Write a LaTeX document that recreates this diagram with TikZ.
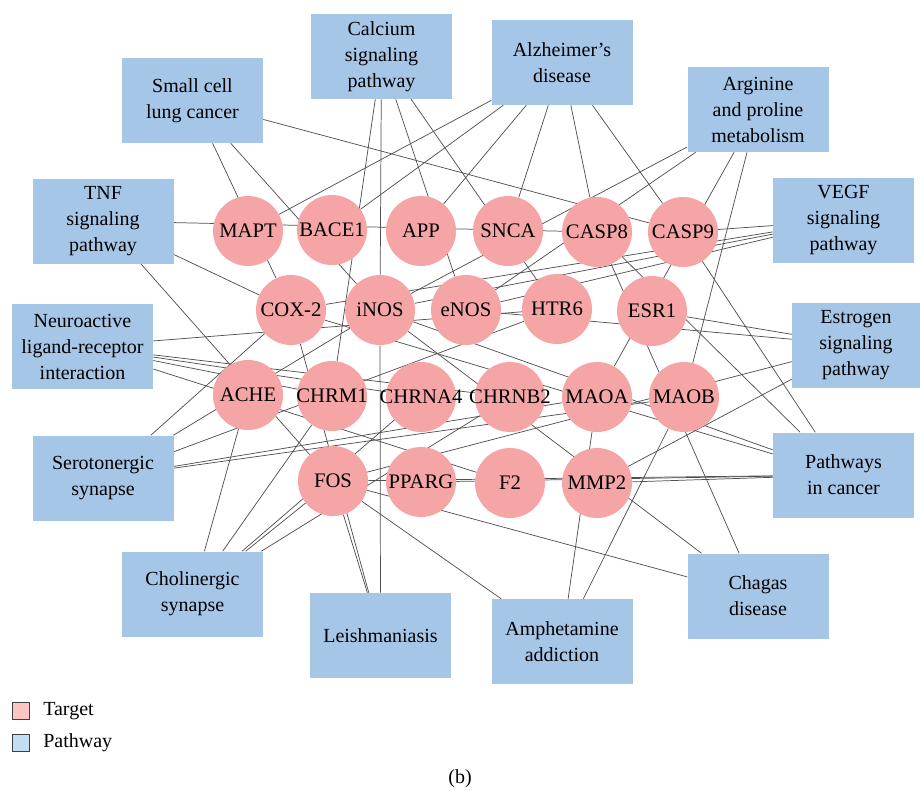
\documentclass[tikz,border=0pt]{standalone}
\usepackage{fontspec}
\setmainfont{Liberation Serif}
\usetikzlibrary{backgrounds}
\definecolor{tcol}{HTML}{F5A5A5}
\definecolor{pcol}{HTML}{A6C6E8}
\definecolor{edgecol}{HTML}{505050}
\definecolor{ltcol}{HTML}{FFC4C4}
\definecolor{lpcol}{HTML}{C4DCF4}
\tikzset{
  tlabel/.style={font=\fontsize{15.5}{17}\selectfont, inner sep=0pt},
  target/.style={circle, fill=tcol, minimum size=52.5pt, inner sep=0pt, label={[tlabel]center:#1}},
  pathway/.style={rectangle, fill=pcol, minimum width=105.75pt, minimum height=63.75pt, inner sep=2pt, align=center, font=\fontsize{15}{19.5}\selectfont},
  edge/.style={draw=edgecol, line width=0.55pt},
  legsq/.style={rectangle, draw=black!75, line width=0.9pt, minimum size=13pt, inner sep=0pt},
  legtxt/.style={anchor=west, font=\fontsize{15}{18}\selectfont, inner sep=0pt}
}
\begin{document}
\begin{tikzpicture}[x=0.75pt, y=-0.75pt]
\useasboundingbox (0,0) rectangle (920,790);
% targets
\node[target=MAPT] (mapt) at (248,231) {};
\node[target=BACE1] (bace) at (332,230) {};
\node[target=APP] (app) at (421,231) {};
\node[target=SNCA] (snca) at (508,231) {};
\node[target=CASP8] (casp8) at (597,232) {};
\node[target=CASP9] (casp9) at (683,232) {};
\node[target=COX-2] (cox) at (291,310) {};
\node[target=iNOS] (inos) at (380,310) {};
\node[target=eNOS] (enos) at (466,310) {};
\node[target=HTR6] (htr) at (557,309) {};
\node[target=ESR1] (esr) at (652,311) {};
\node[target=ACHE] (ache) at (248,395) {};
\node[target=CHRM1] (chrm) at (332,396) {};
\node[target=CHRNA4] (chrna) at (421,397) {};
\node[target=CHRNB2] (chrnb) at (510,397) {};
\node[target=MAOA] (maoa) at (597,397) {};
\node[target=MAOB] (maob) at (684,397) {};
\node[target=FOS] (fos) at (333,481) {};
\node[target=PPARG] (pparg) at (421,482) {};
\node[target=F2] (ftwo) at (510,483) {};
\node[target=MMP2] (mmp) at (597,483) {};
% pathways
\node[pathway] (small) at (192.5,100.5) {Small cell\\lung cancer};
\node[pathway] (calc) at (381.5,56.5) {Calcium\\signaling\\pathway};
\node[pathway] (alz) at (562,62.5) {Alzheimer's\\disease};
\node[pathway] (arg) at (758,109.5) {Arginine\\and proline\\metabolism};
\node[pathway] (vegf) at (843.5,220.5) {VEGF\\signaling\\pathway};
\node[pathway] (tnf) at (103,221) {TNF\\signaling\\pathway};
\node[pathway] (neuro) at (82.5,346.5) {Neuroactive\\ligand-receptor\\interaction};
\node[pathway] (sero) at (103,478) {Serotonergic\\synapse};
\node[pathway, minimum width=96pt] (estr) at (856,345) {Estrogen\\signaling\\pathway};
\node[pathway] (canc) at (843.5,475) {Pathways\\in cancer};
\node[pathway] (chol) at (192.5,594) {Cholinergic\\synapse};
\node[pathway] (leish) at (380.5,635.5) {Leishmaniasis};
\node[pathway] (amph) at (562,641.5) {Amphetamine\\addiction};
\node[pathway] (chag) at (758,596) {Chagas\\disease};
% edges
\begin{pgfonlayer}{background}
\foreach \a/\b in {small/cox, small/inos, small/casp9,
  calc/chrm, calc/inos, calc/enos, calc/htr,
  alz/mapt, alz/bace, alz/app, alz/snca, alz/casp8, alz/casp9,
  arg/inos, arg/enos, arg/maoa, arg/maob,
  vegf/casp9, vegf/enos, vegf/cox, vegf/inos,
  tnf/casp8, tnf/cox, tnf/fos,
  neuro/htr, neuro/chrm, neuro/chrna, neuro/chrnb, neuro/ftwo,
  sero/cox, sero/inos, sero/htr, sero/maoa, sero/maob,
  chol/ache, chol/chrm, chol/fos, chol/chrna, chol/chrnb,
  leish/inos, leish/fos, leish/cox,
  amph/fos, amph/maoa, amph/maob,
  chag/fos, chag/inos, chag/casp8,
  estr/esr, estr/enos, estr/fos, estr/mmp,
  canc/mmp, canc/pparg, canc/fos, canc/inos, canc/cox, canc/casp8, canc/casp9}
  \draw[edge] (\a) -- (\b);
\end{pgfonlayer}
% legend
\node[legsq, fill=ltcol] (lt) at (21,711) {};
\node[legtxt] (ltt) at (43,711) {Target};
\node[legsq, fill=lpcol] (lp) at (21,743) {};
\node[legtxt] (lpt) at (43,743) {Pathway};
\node[font=\fontsize{15}{18}\selectfont] (cap) at (460,779) {(b)};
\end{tikzpicture}
\end{document}
